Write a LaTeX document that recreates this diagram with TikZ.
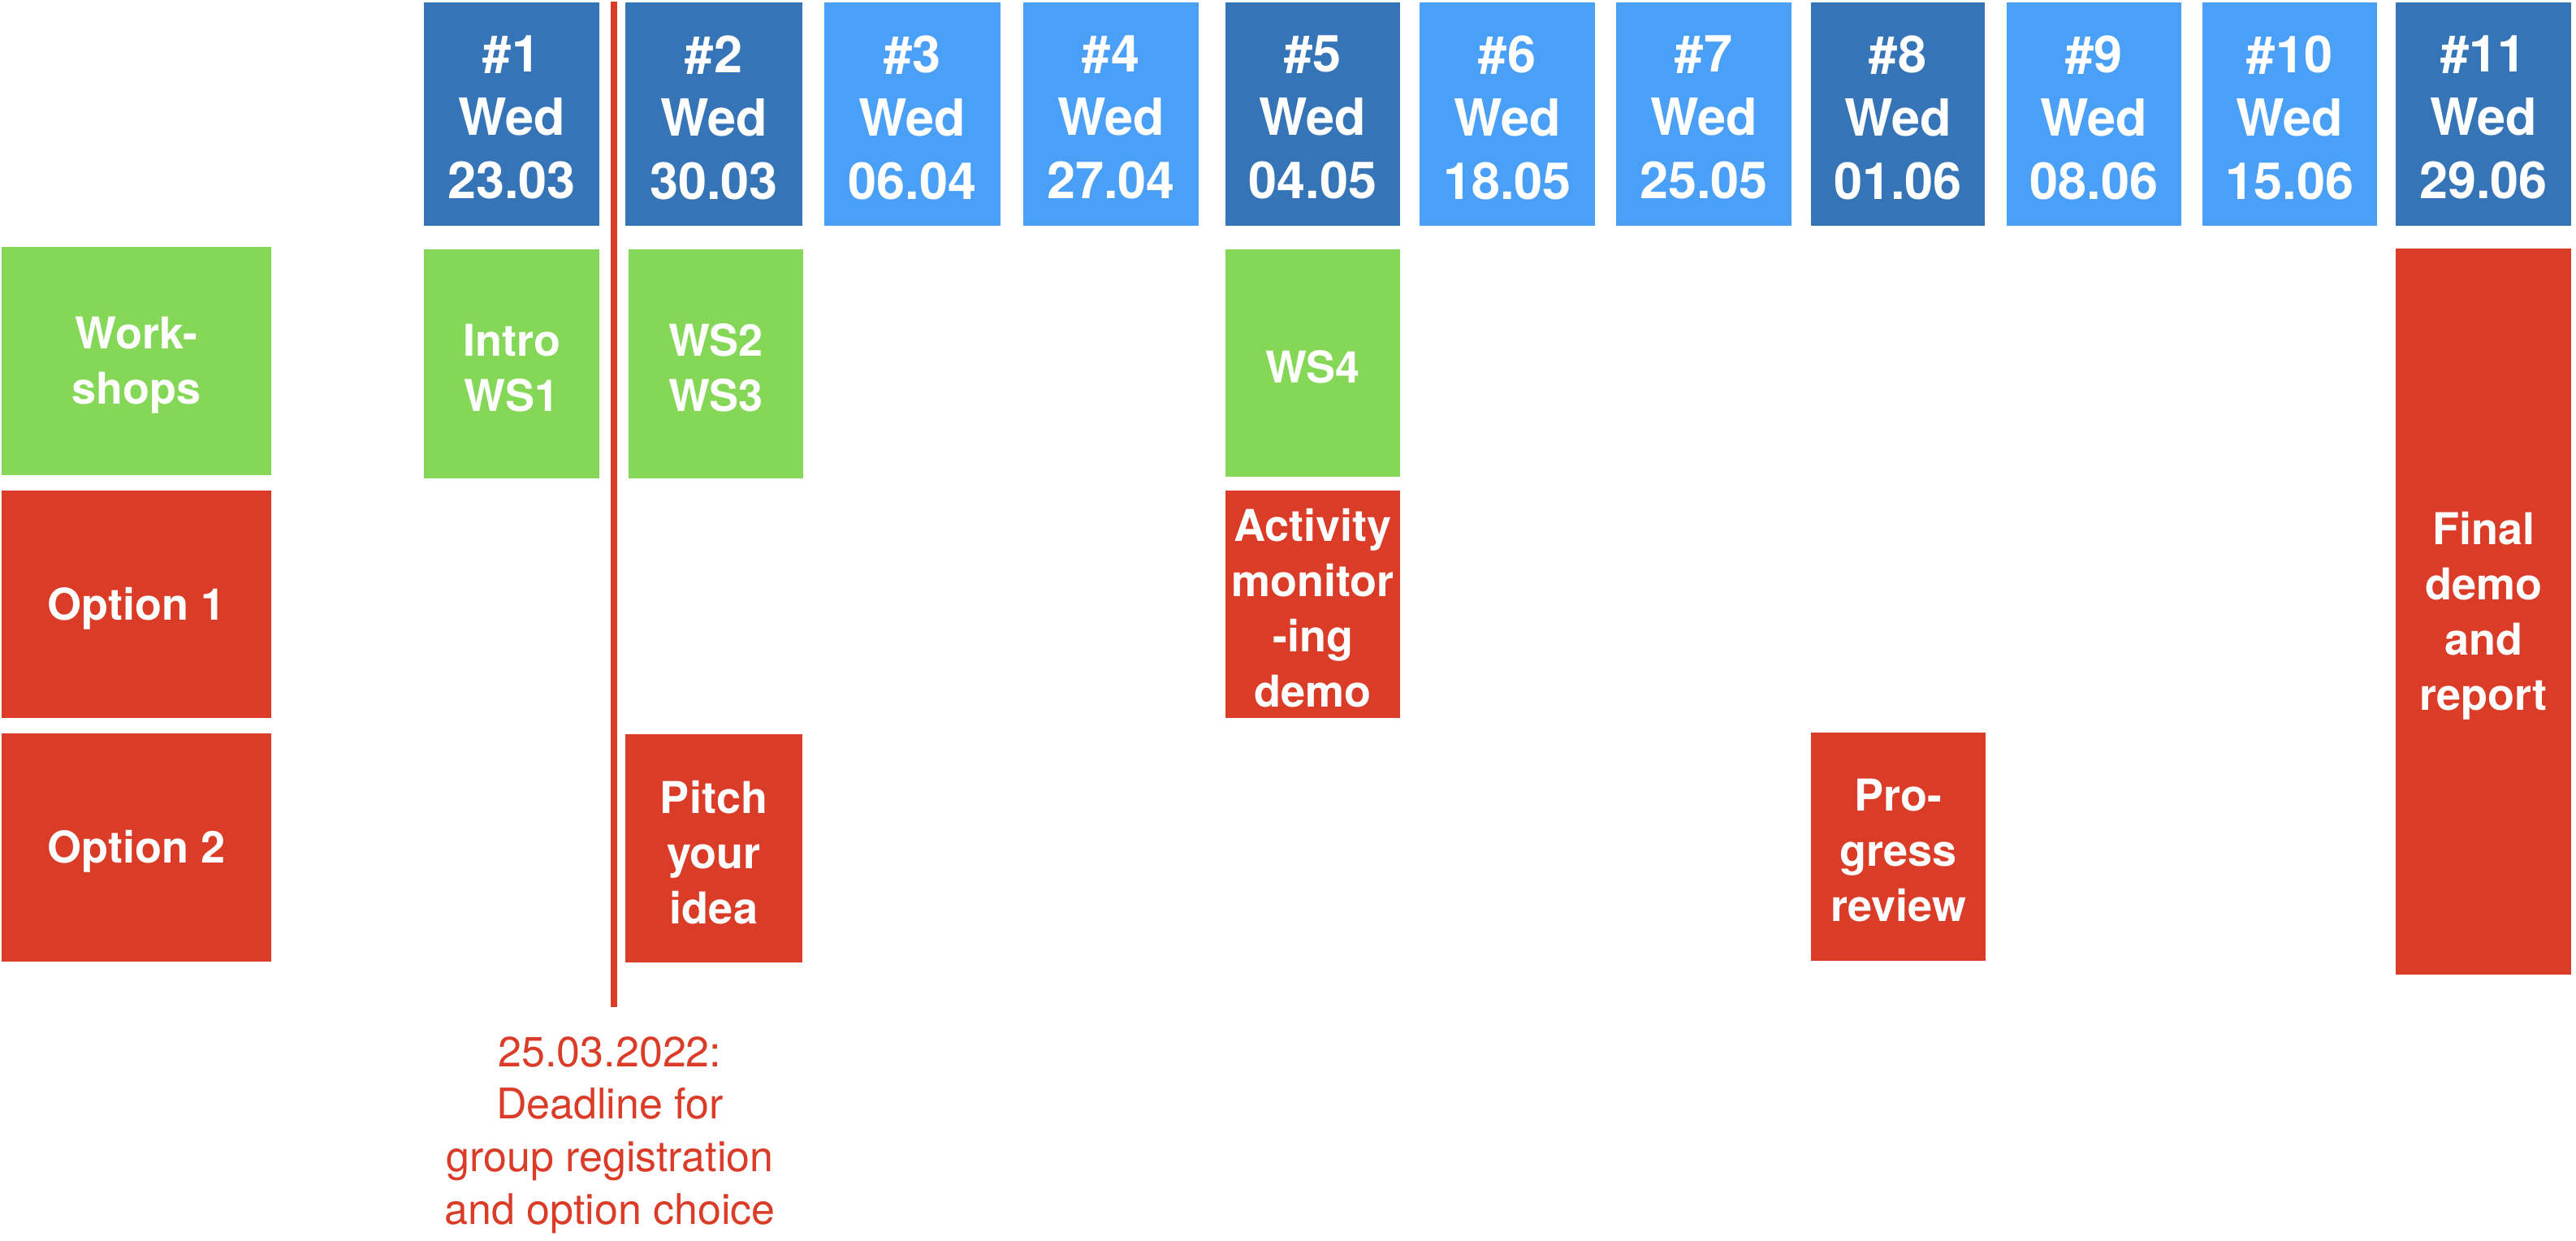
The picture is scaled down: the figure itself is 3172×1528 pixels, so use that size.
\documentclass[tikz,border=0pt]{standalone}
\usepackage{fontspec}
\setmainfont{TeX Gyre Heros}
\definecolor{dblue}{HTML}{3574B6}
\definecolor{lblue}{HTML}{4A9FF6}
\definecolor{wsgreen}{HTML}{85D757}
\definecolor{optred}{HTML}{DA3C27}
\begin{document}
\begin{tikzpicture}[x=1pt,y=-1pt,
  cell/.style={inner sep=0pt, outer sep=0pt},
  celltext/.style={inner sep=0pt, align=center, text=white,
    font=\bfseries\fontsize{54}{68}\selectfont},
  hdrtext/.style={celltext, font=\bfseries\fontsize{63}{78}\selectfont},
  note/.style={inner sep=0pt, align=center, text=optred, font=\fontsize{52}{64.7}\selectfont}]
\useasboundingbox (0,0) rectangle (3172,1528);
% header row
\foreach \n/\cx/\w/\col/\d in {1/630/216/dblue/23.03, 2/879/218/dblue/30.03, 3/1123.5/217/lblue/06.04,
  4/1368/216/lblue/27.04, 5/1616.5/215/dblue/04.05, 6/1856/216/lblue/18.05, 7/2098/216/lblue/25.05,
  8/2337/214/dblue/01.06, 9/2578.5/215/lblue/08.06, 10/2819.5/215/lblue/15.06, 11/3058/216/dblue/29.06}
  {\node[cell, fill=\col, minimum width=\w pt, minimum height=275pt] (h\n) at (\cx,140.5) {};
   \node[hdrtext] (t\n) at ([yshift=-4pt]h\n.center) {\#\n\\Wed\\\d};}
% row labels and events
\foreach \name/\cx/\cy/\w/\h/\col/\txt in {
  lws/168/444.5/332/281/wsgreen/{Work-\\shops},
  lo1/168/744/332/280/optred/{Option 1},
  lo2/168/1043.5/332/281/optred/{Option 2},
  intro/630/448/216/282/wsgreen/{Intro\\WS1},
  ws23/881.5/448/215/282/wsgreen/{WS2\\WS3},
  pitch/879/1044.5/218/281/optred/{Pitch\\your\\idea},
  ws4/1616.5/447/215/280/wsgreen/{WS4},
  act/1616.5/744/215/280/optred/{Activity\\monitor\\-ing\\demo},
  prog/2337.5/1042.5/215/281/optred/{Pro-\\gress\\review},
  final/3058/753/216/894/optred/{Final\\demo\\and\\report}}
  {\node[cell, fill=\col, minimum width=\w pt, minimum height=\h pt] (\name) at (\cx,\cy) {};
   \node[celltext] (\name t) at ([yshift=-5pt]\name.center) {\txt};}
% deadline
\coordinate (dtop) at (756,2);
\coordinate (dbot) at (756,1240);
\draw[optred, line width=8pt] (dtop) -- (dbot);
\node[note, anchor=north] (dl) at (751,1276) {25.03.2022:\\Deadline for\\group registration\\and option choice};
\end{tikzpicture}
\end{document}
